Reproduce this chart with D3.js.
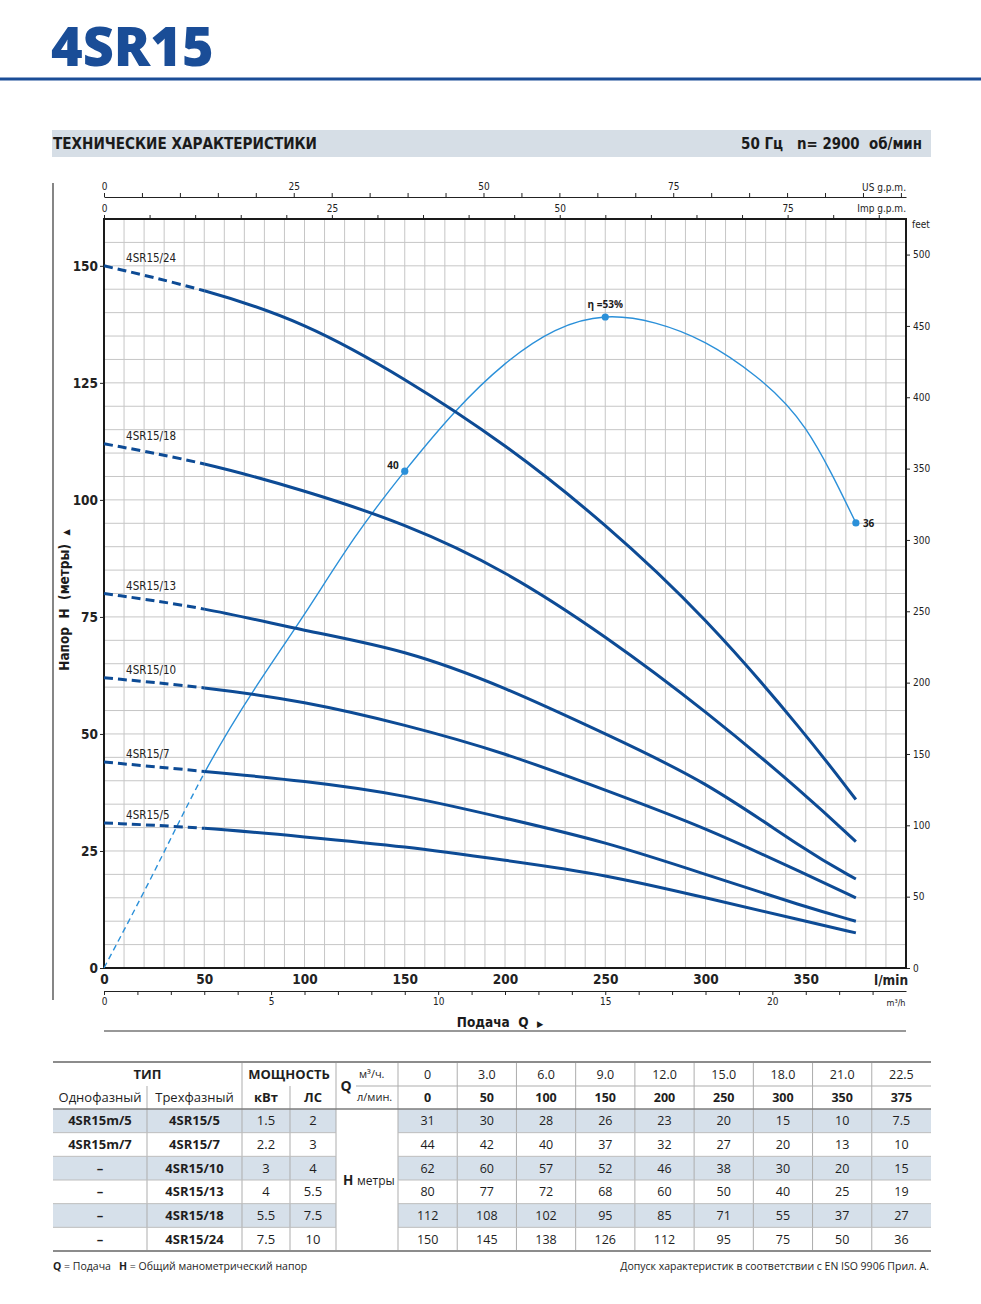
<!DOCTYPE html>
<html lang="ru">
<head>
<meta charset="utf-8">
<title>4SR15</title>
<script src="https://cdn.jsdelivr.net/npm/d3@7.9.0/dist/d3.min.js"></script>
<style>
  html, body { margin: 0; padding: 0; background: #fff; }
  svg { display: block; }
  text { white-space: pre; }
</style>
</head>
<body>
<svg id="sheet" width="981" height="1304"></svg>
<script>
// flow points of the table / curves
const flowLmin = [0, 50, 100, 150, 200, 250, 300, 350, 375];
const flowM3h = ['0', '3.0', '6.0', '9.0', '12.0', '15.0', '18.0', '21.0', '22.5'];

const modelNames = ['4SR15/5', '4SR15/7', '4SR15/10', '4SR15/13', '4SR15/18', '4SR15/24'];
const singlePhase = ['4SR15m/5', '4SR15m/7', '–', '–', '–', '–'];
const powerKw = ['1.5', '2.2', '3', '4', '5.5', '7.5'];
const powerHp = ['2', '3', '4', '5.5', '7.5', '10'];

const head5 = [31, 30, 28, 26, 23, 20, 15, 10, 7.5];
const head7 = [44, 42, 40, 37, 32, 27, 20, 13, 10];
const head10 = [62, 60, 57, 52, 46, 38, 30, 20, 15];
const head13 = [80, 77, 72, 68, 60, 50, 40, 25, 19];
const head18 = [112, 108, 102, 95, 85, 71, 55, 37, 27];
const head24 = [150, 145, 138, 126, 112, 95, 75, 50, 36];
const headRows = [head5, head7, head10, head13, head18, head24];

// efficiency curve (%)
const effFlow = [0, 25, 50, 75, 100, 125, 150, 175, 200, 225, 250, 275, 300, 325, 350, 375];
const effPct = [0, 7.8, 15.8, 22.6, 28.7, 34.9, 40.3, 45.1, 49.0, 51.7, 52.8, 52.3, 50.7, 48.0, 43.7, 36.1];
const effMarkFlow = [150, 250, 375];
const effMarkLabel = ['40', 'η =53%', '36'];

const chartFont = '"DejaVu Sans Condensed", "Liberation Sans", Arial, sans-serif';
const tableFont = '"Open Sans", "Noto Sans", sans-serif';
const blue = '#1a4d97';
const curveBlue = '#0d4b95';
const effBlue = '#2b90d9';

const svg = d3.select('#sheet');

// ---- page header
svg.append('text')
  .attr('x', 51).attr('y', 66)
  .attr('font-family', tableFont).attr('font-weight', 800).attr('font-size', 54)
  .attr('fill', blue).text('4SR15');
svg.append('rect').attr('x', 0).attr('y', 77.5).attr('width', 981).attr('height', 3).attr('fill', blue);

svg.append('rect').attr('x', 52).attr('y', 130).attr('width', 879).attr('height', 27).attr('fill', '#d6dee6');
svg.append('text')
  .attr('x', 53).attr('y', 149)
  .attr('font-family', chartFont).attr('font-weight', 'bold').attr('font-size', 15)
  .attr('textLength', 264).attr('lengthAdjust', 'spacingAndGlyphs')
  .attr('fill', '#1b1b1b').text('ТЕХНИЧЕСКИЕ ХАРАКТЕРИСТИКИ');
svg.append('text')
  .attr('x', 741).attr('y', 149)
  .attr('font-family', chartFont).attr('font-weight', 'bold').attr('font-size', 15)
  .attr('fill', '#1b1b1b').text('50 Гц');
svg.append('text')
  .attr('x', 797).attr('y', 149)
  .attr('font-family', chartFont).attr('font-weight', 'bold').attr('font-size', 15)
  .attr('textLength', 125).attr('lengthAdjust', 'spacingAndGlyphs')
  .attr('fill', '#1b1b1b').text('n= 2900  об/мин');

// ---- chart
const plot = { left: 104, right: 906, top: 219, bottom: 968 };

const x = d3.scaleLinear().domain([0, 400]).range([plot.left, plot.right]);
const y = d3.scaleLinear().domain([0, 160]).range([plot.bottom, plot.top]);
const etaY = d3.scaleLinear().domain([0, 60.75]).range([plot.bottom, plot.top]);
const usg = d3.scaleLinear().domain([0, 400 / 3.7854]).range(x.range());
const impg = d3.scaleLinear().domain([0, 400 / 4.5461]).range(x.range());
const m3h = d3.scaleLinear().domain([0, 24]).range(x.range());
const feet = d3.scaleLinear().domain([0, 160 / 0.3048]).range(y.range());

const chart = svg.append('g').attr('font-family', chartFont);

svg.append('line')
  .attr('x1', 53).attr('x2', 53).attr('y1', 183).attr('y2', 1000)
  .attr('stroke', '#444').attr('stroke-width', 1.3);

const grid = chart.append('g').attr('stroke', '#c6c6c6').attr('stroke-width', 1);
d3.range(10, 400, 10).forEach((q) => {
  grid.append('line').attr('x1', x(q)).attr('x2', x(q)).attr('y1', plot.top).attr('y2', plot.bottom);
});
d3.range(5, 160, 5).forEach((h) => {
  grid.append('line').attr('x1', plot.left).attr('x2', plot.right).attr('y1', y(h)).attr('y2', y(h));
});

function styleAxis(g, size, weight) {
  g.attr('font-family', chartFont).attr('font-size', size).attr('font-weight', weight).attr('color', '#222');
}

chart.append('g')
  .attr('transform', `translate(${plot.left},0)`)
  .call(d3.axisLeft(y).tickValues(d3.range(0, 151, 25)).tickSize(4).tickPadding(2))
  .call((g) => g.select('.domain').remove())
  .call((g) => styleAxis(g, 13.5, 'bold'));

chart.append('g')
  .attr('transform', `translate(0,${plot.bottom})`)
  .call(d3.axisBottom(x).tickValues(d3.range(0, 351, 50)).tickSize(0).tickPadding(6))
  .call((g) => g.select('.domain').remove())
  .call((g) => styleAxis(g, 13.5, 'bold'));
chart.append('text')
  .attr('x', 891).attr('y', 985).attr('text-anchor', 'middle')
  .attr('font-size', 13.5).attr('font-weight', 'bold').attr('fill', '#222').text('l/min');

chart.append('g')
  .attr('transform', 'translate(0,991)')
  .call(d3.axisBottom(m3h).tickValues(d3.range(0, 24, 1)).tickSize(4).tickSizeOuter(0).tickPadding(3)
    .tickFormat((d) => (d % 5 === 0 ? d : '')))
  .call((g) => styleAxis(g, 10, 'normal'));
chart.append('text')
  .attr('x', 896).attr('y', 1006).attr('text-anchor', 'middle')
  .attr('font-size', 9).attr('fill', '#222').text('m³/h');

chart.append('g')
  .attr('transform', 'translate(0,197)')
  .call(d3.axisTop(usg).tickValues(d3.range(0, 106, 5)).tickSize(4).tickSizeOuter(0).tickPadding(3)
    .tickFormat((d) => (d % 25 === 0 && d < 100 ? d : '')))
  .call((g) => styleAxis(g, 10, 'normal'));
chart.append('text')
  .attr('x', 906).attr('y', 191).attr('text-anchor', 'end')
  .attr('font-size', 10).attr('fill', '#222').text('US g.p.m.');

chart.append('g')
  .attr('transform', `translate(0,${plot.top})`)
  .call(d3.axisTop(impg).tickValues(d3.range(0, 89, 5)).tickSize(4).tickPadding(3)
    .tickFormat((d) => (d % 25 === 0 ? d : '')))
  .call((g) => g.select('.domain').remove())
  .call((g) => styleAxis(g, 10, 'normal'));
chart.append('text')
  .attr('x', 906).attr('y', 212).attr('text-anchor', 'end')
  .attr('font-size', 10).attr('fill', '#222').text('Imp g.p.m.');

chart.append('g')
  .attr('transform', `translate(${plot.right},0)`)
  .call(d3.axisRight(feet).tickValues(d3.range(0, 501, 50)).tickSize(4).tickPadding(3))
  .call((g) => g.select('.domain').remove())
  .call((g) => styleAxis(g, 10, 'normal'));
chart.append('text')
  .attr('x', 912).attr('y', 228)
  .attr('font-size', 10).attr('fill', '#222').text('feet');

chart.append('rect')
  .attr('x', plot.left).attr('y', plot.top)
  .attr('width', plot.right - plot.left).attr('height', plot.bottom - plot.top)
  .attr('fill', 'none').attr('stroke', '#1a1a1a').attr('stroke-width', 2);

// axis titles
const yTitle = chart.append('text')
  .attr('transform', 'translate(69,600) rotate(-90)')
  .attr('text-anchor', 'middle')
  .attr('font-size', 13.5).attr('font-weight', 'bold').attr('fill', '#1b1b1b');
yTitle.append('tspan').text('Напор  H  (метры)  ');
yTitle.append('tspan').attr('font-size', 9).text('▲');

const xTitle = chart.append('text')
  .attr('x', 500).attr('y', 1027)
  .attr('text-anchor', 'middle')
  .attr('font-size', 13.5).attr('font-weight', 'bold').attr('fill', '#1b1b1b');
xTitle.append('tspan').text('Подача  Q  ');
xTitle.append('tspan').attr('font-size', 9).text('▶');

chart.append('line')
  .attr('x1', plot.left).attr('x2', plot.right).attr('y1', 1031).attr('y2', 1031)
  .attr('stroke', '#333').attr('stroke-width', 1.2);

// clip: dashed part below 50 l/min, solid above
const defs = svg.append('defs');
defs.append('clipPath').attr('id', 'clip-dash')
  .append('rect')
  .attr('x', plot.left - 5).attr('y', plot.top - 20)
  .attr('width', x(50) - plot.left + 5).attr('height', plot.bottom - plot.top + 30);
defs.append('clipPath').attr('id', 'clip-solid')
  .append('rect')
  .attr('x', x(50)).attr('y', plot.top - 20)
  .attr('width', plot.right - x(50) + 5).attr('height', plot.bottom - plot.top + 30);

// efficiency curve
const effLine = d3.line()
  .x((d, i) => x(effFlow[i]))
  .y((d) => etaY(d))
  .curve(d3.curveNatural);

chart.append('path')
  .attr('d', effLine(effPct))
  .attr('clip-path', 'url(#clip-dash)')
  .attr('fill', 'none').attr('stroke', effBlue).attr('stroke-width', 1.4)
  .attr('stroke-dasharray', '6 4');
chart.append('path')
  .attr('d', effLine(effPct))
  .attr('clip-path', 'url(#clip-solid)')
  .attr('fill', 'none').attr('stroke', effBlue).attr('stroke-width', 1.4);

// pump curves (table values are rounded, so smooth them with a B-spline)
const headLine = d3.line()
  .x((d, i) => x(flowLmin[i]))
  .y((d) => y(d))
  .curve(d3.curveBasis);

headRows.forEach((heads, i) => {
  chart.append('path')
    .attr('d', headLine(heads))
    .attr('clip-path', 'url(#clip-dash)')
    .attr('fill', 'none').attr('stroke', curveBlue).attr('stroke-width', 3)
    .attr('stroke-dasharray', '9 5');
  chart.append('path')
    .attr('d', headLine(heads))
    .attr('clip-path', 'url(#clip-solid)')
    .attr('fill', 'none').attr('stroke', curveBlue).attr('stroke-width', 3);
  chart.append('text')
    .attr('x', x(11)).attr('y', y(heads[0]) - 4)
    .attr('font-size', 11.5).attr('fill', '#222')
    .text(modelNames[i]);
});

// efficiency marks
effMarkFlow.forEach((q, i) => {
  const eta = effPct[effFlow.indexOf(q)];
  const cx = x(q);
  const cy = etaY(eta);
  chart.append('circle')
    .attr('cx', cx).attr('cy', cy).attr('r', 3.6)
    .attr('fill', effBlue);
  const label = chart.append('text')
    .attr('font-family', tableFont).attr('font-size', 10).attr('font-weight', 'bold').attr('fill', '#1b1b1b')
    .text(effMarkLabel[i]);
  if (i === 0) {
    label.attr('x', cx - 6).attr('y', cy - 2).attr('text-anchor', 'end');
  } else if (i === 1) {
    label.attr('x', cx).attr('y', cy - 9).attr('text-anchor', 'middle');
  } else {
    label.attr('x', cx + 7).attr('y', cy + 4);
  }
});

// ---- table
const tbl = svg.append('g').attr('font-family', tableFont).attr('fill', '#1e1e1e');
const col = { left: 53, phase: 147, type: 242, kw: 290, hp: 336, q: 398, right: 931 };
const dataCol = d3.scaleBand().domain(d3.range(flowLmin.length)).range([col.q, col.right]);
const rowY = d3.scaleBand().domain(d3.range(modelNames.length)).range([1109, 1251]);
const shade = '#d6e0ea';
const lineGray = '#adadad';

modelNames.forEach((m, i) => {
  if (i % 2 === 0) {
    tbl.append('rect').attr('x', col.left).attr('y', rowY(i))
      .attr('width', col.hp - col.left).attr('height', rowY.bandwidth()).attr('fill', shade);
    tbl.append('rect').attr('x', col.q).attr('y', rowY(i))
      .attr('width', col.right - col.q).attr('height', rowY.bandwidth()).attr('fill', shade);
  }
});

function hline(yy, x1, x2, color, w) {
  tbl.append('line').attr('x1', x1).attr('x2', x2).attr('y1', yy).attr('y2', yy)
    .attr('stroke', color).attr('stroke-width', w);
}
function vline(xx, y1, y2) {
  tbl.append('line').attr('x1', xx).attr('x2', xx).attr('y1', y1).attr('y2', y2)
    .attr('stroke', lineGray).attr('stroke-width', 1);
}

[col.phase, col.kw].forEach((xx) => vline(xx, 1086, 1251));
[col.type, col.hp, col.q].forEach((xx) => vline(xx, 1062, 1251));
d3.range(1, flowLmin.length).forEach((j) => vline(dataCol(j), 1062, 1251));

hline(1086, 356, col.right, lineGray, 1);
d3.range(1, modelNames.length).forEach((i) => {
  hline(rowY(i), col.left, col.hp, '#bdbdbd', 1);
  hline(rowY(i), col.q, col.right, '#bdbdbd', 1);
});
hline(1062, col.left, col.right, '#8c8c8c', 2);
hline(1109, col.left, col.right, '#7c7c7c', 1.5);
hline(1251, col.left, col.right, '#8c8c8c', 2);

function cell(txt, cx, cy, size, weight, anchor) {
  return tbl.append('text')
    .attr('x', cx).attr('y', cy)
    .attr('text-anchor', anchor || 'middle')
    .attr('font-size', size).attr('font-weight', weight || 'normal')
    .text(txt);
}

cell('ТИП', (col.left + col.type) / 2, 1079, 13, 'bold');
cell('МОЩНОСТЬ', (col.type + col.hp) / 2, 1079, 13, 'bold');
cell('Однофазный', (col.left + col.phase) / 2, 1102, 13);
cell('Трехфазный', (col.phase + col.type) / 2, 1102, 13);
cell('кВт', (col.type + col.kw) / 2, 1102, 13, 'bold');
cell('ЛС', (col.kw + col.hp) / 2, 1102, 13, 'bold');
cell('Q', 346, 1091, 14, 'bold');
cell('м³/ч.', 359, 1078, 11, 'normal', 'start');
cell('л/мин.', 357, 1101, 11, 'normal', 'start');

flowLmin.forEach((q, j) => {
  const cx = dataCol(j) + dataCol.bandwidth() / 2;
  cell(flowM3h[j], cx, 1079, 12.5);
  cell(String(q), cx, 1102, 12.5, 'bold');
});

modelNames.forEach((m, i) => {
  const cy = rowY(i) + rowY.bandwidth() / 2 + 4.5;
  cell(singlePhase[i], (col.left + col.phase) / 2, cy, 13, 'bold');
  cell(m, (col.phase + col.type) / 2, cy, 13, 'bold');
  cell(powerKw[i], (col.type + col.kw) / 2, cy, 13);
  cell(powerHp[i], (col.kw + col.hp) / 2, cy, 13);
  headRows[i].forEach((h, j) => {
    cell(String(h), dataCol(j) + dataCol.bandwidth() / 2, cy, 12.5);
  });
});

cell('H', 343, 1185, 13.5, 'bold', 'start');
cell('метры', 357, 1185, 12, 'normal', 'start');

// ---- footer
const note = tbl.append('text').attr('x', 53).attr('y', 1270).attr('font-size', 10.5);
note.append('tspan').attr('font-weight', 'bold').text('Q');
note.append('tspan').text(' = Подача   ');
note.append('tspan').attr('font-weight', 'bold').text('H');
note.append('tspan').text(' = Общий манометрический напор');

cell('Допуск характеристик в соответствии с EN ISO 9906 Прил. А.', 929, 1270, 10.5, 'normal', 'end');
</script>
</body>
</html>
